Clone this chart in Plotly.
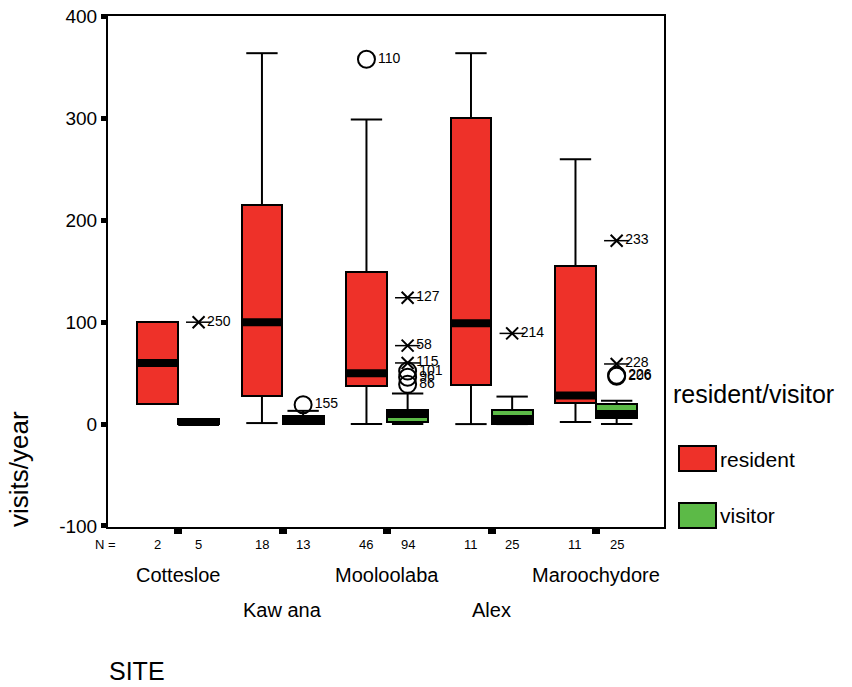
import plotly.graph_objects as go

# ---------------- data ----------------
sites = ["Cottesloe", "Kaw ana", "Mooloolaba", "Alex", "Maroochydore"]
groups = ["resident", "visitor"]

res_n = [2, 18, 46, 11, 11]
vis_n = [5, 13, 94, 25, 25]

res_q1 = [20, 28, 37, 38, 21]
res_med = [60, 100, 50, 99, 28]
res_q3 = [100, 215, 149, 300, 155]
res_lo = [20, 1, 0, 0, 2]
res_hi = [100, 364, 299, 364, 260]

vis_q1 = [0, 0, 2, 0.5, 6]
vis_med = [2, 4, 10, 5, 10]
vis_q3 = [5, 8, 14, 14, 20]
vis_lo = [0, 0, 0, 0, 0]
vis_hi = [5, 13, 30, 27, 23]

# outliers: site index, group (0 resident / 1 visitor), value, case label, kind
out_site = [2, 0, 1, 2, 2, 2, 2, 2, 2, 3, 4, 4, 4, 4]
out_group = [0, 1, 1, 1, 1, 1, 1, 1, 1, 1, 1, 1, 1, 1]
out_val = [358, 100, 19, 124, 77, 60, 52, 46, 39, 89, 180, 59, 48, 47]
out_label = ["110", "250", "155", "127", "58", "115", "101", "96", "86", "214", "233", "228", "226", "206"]
out_kind = ["o", "*", "o", "*", "*", "*", "o", "o", "o", "*", "*", "*", "o", "o"]

y_ticks = [-100, 0, 100, 200, 300, 400]
y_ticktext = ["-100", "0", "100", "200", "300", "400"]

# ---------------- style ----------------
RED = "#EE3129"
GREEN = "#5CBA47"
OFF = 0.197      # group offset
BW = 0.39        # box width
CAP = 0.30       # whisker cap width
FONT = "Liberation Sans, Arial, sans-serif"

fig = go.Figure()

series = [
    (res_q1, res_med, res_q3, res_lo, res_hi, RED, -OFF),
    (vis_q1, vis_med, vis_q3, vis_lo, vis_hi, GREEN, OFF),
]

for q1, med, q3, lo, hi, col, off in series:
    xs = [i + off for i in range(len(sites))]
    wx, wy = [], []
    for x, a, b, l, h in zip(xs, q1, q3, lo, hi):
        if h > b:
            wx += [x, x, None, x - CAP / 2, x + CAP / 2, None]
            wy += [b, h, None, h, h, None]
        if l < a:
            wx += [x, x, None, x - CAP / 2, x + CAP / 2, None]
            wy += [a, l, None, l, l, None]
    fig.add_trace(go.Scatter(x=wx, y=wy, mode="lines",
                             line=dict(color="black", width=2),
                             hoverinfo="skip", showlegend=False))
    fig.add_trace(go.Bar(x=xs, base=q1, y=[b - a for a, b in zip(q1, q3)],
                         width=BW, marker=dict(color=col, line=dict(color="black", width=2)),
                         showlegend=False))
    mx, my = [], []
    for x, m in zip(xs, med):
        mx += [x - BW / 2, x + BW / 2, None]
        my += [m, m, None]
    fig.add_trace(go.Scatter(x=mx, y=my, mode="lines",
                             line=dict(color="black", width=8),
                             hoverinfo="skip", showlegend=False))

# outliers
ox = [s + (OFF if g else -OFF) for s, g in zip(out_site, out_group)]
circ = [i for i, k in enumerate(out_kind) if k == "o"]
star = [i for i, k in enumerate(out_kind) if k == "*"]

fig.add_trace(go.Scatter(x=[ox[i] for i in circ], y=[out_val[i] for i in circ],
                         mode="markers+text", text=[out_label[i] for i in circ],
                         textposition="middle right",
                         textfont=dict(family=FONT, size=14, color="black"),
                         marker=dict(symbol="circle-open", size=17, color="black",
                                     line=dict(width=2)),
                         cliponaxis=False, showlegend=False))
fig.add_trace(go.Scatter(x=[ox[i] for i in star], y=[out_val[i] for i in star],
                         mode="markers",
                         marker=dict(symbol="line-ew-open", size=18, color="black",
                                     line=dict(width=1.5)),
                         cliponaxis=False, showlegend=False))
fig.add_trace(go.Scatter(x=[ox[i] for i in star], y=[out_val[i] for i in star],
                         mode="markers+text", text=[out_label[i] for i in star],
                         textposition="middle right",
                         textfont=dict(family=FONT, size=14, color="black"),
                         marker=dict(symbol="x-thin-open", size=12, color="black",
                                     line=dict(width=2)),
                         cliponaxis=False, showlegend=False))

# ---------------- layout ----------------
FW, FH = 852, 687
L, R, T, B = 108, 664, 16, 527          # plot area in page pixels
W, H = R - L, B - T


def px(xp):
    return (xp - L) / W


def py(yp):
    return (B - yp) / H


def note(x, y, text, size, xref="paper", xanchor="center", angle=0):
    return dict(x=x, y=y, xref=xref, yref="paper", text=text, showarrow=False,
                xanchor=xanchor, yanchor="middle", textangle=angle,
                font=dict(family=FONT, size=size, color="black"))


ann = [note(px(105), py(545), "N =", 13)]
for i in range(len(sites)):
    for n, off in ((res_n[i], -OFF), (vis_n[i], OFF)):
        ann.append(note(i + off, py(545), str(n), 13, xref="x"))
for i, s in enumerate(sites):
    ann.append(note(i, py(575) if i % 2 == 0 else py(610), s, 20, xref="x"))
ann.append(note(px(107), py(671), "SITE", 25, xanchor="left"))
ann.append(note(px(19), py(469), "visits/year", 26, angle=-90))
ann.append(note(px(671), py(394), "resident/visitor", 25, xanchor="left"))
ann.append(note(px(718), py(459), groups[0], 21, xanchor="left"))
ann.append(note(px(718), py(515), groups[1], 21, xanchor="left"))

shapes = [
    dict(type="rect", xref="paper", yref="paper", x0=px(679), x1=px(716), y0=py(471), y1=py(446),
         fillcolor=RED, line=dict(color="black", width=2)),
    dict(type="rect", xref="paper", yref="paper", x0=px(679), x1=px(716), y0=py(528), y1=py(503),
         fillcolor=GREEN, line=dict(color="black", width=2)),
]

fig.update_layout(
    width=FW, height=FH,
    margin=dict(l=L, r=FW - R, t=T, b=FH - B, autoexpand=False),
    paper_bgcolor="white", plot_bgcolor="white",
    font=dict(family=FONT, color="black"),
    annotations=ann, shapes=shapes,
    showlegend=False,
    bargap=0,
)
fig.update_xaxes(range=[-0.67, 4.65], tickvals=list(range(len(sites))), ticktext=[""] * len(sites),
                 ticks="outside", ticklen=5, tickwidth=8, tickcolor="black",
                 showline=True, linecolor="black", linewidth=2, mirror=True,
                 showgrid=False, zeroline=False, automargin=False)
fig.update_yaxes(range=[-101, 400.5], tickvals=y_ticks, ticktext=y_ticktext,
                 ticks="outside", ticklen=5, tickwidth=5, tickcolor="black",
                 tickfont=dict(family=FONT, size=19, color="black"),
                 ticklabeloverflow="allow",
                 showline=True, linecolor="black", linewidth=2, mirror=True,
                 showgrid=False, zeroline=False, automargin=False)

fig.write_html("out.html", config={"displayModeBar": False},
               post_script="document.body.style.margin='0';document.body.style.overflow='hidden';")
